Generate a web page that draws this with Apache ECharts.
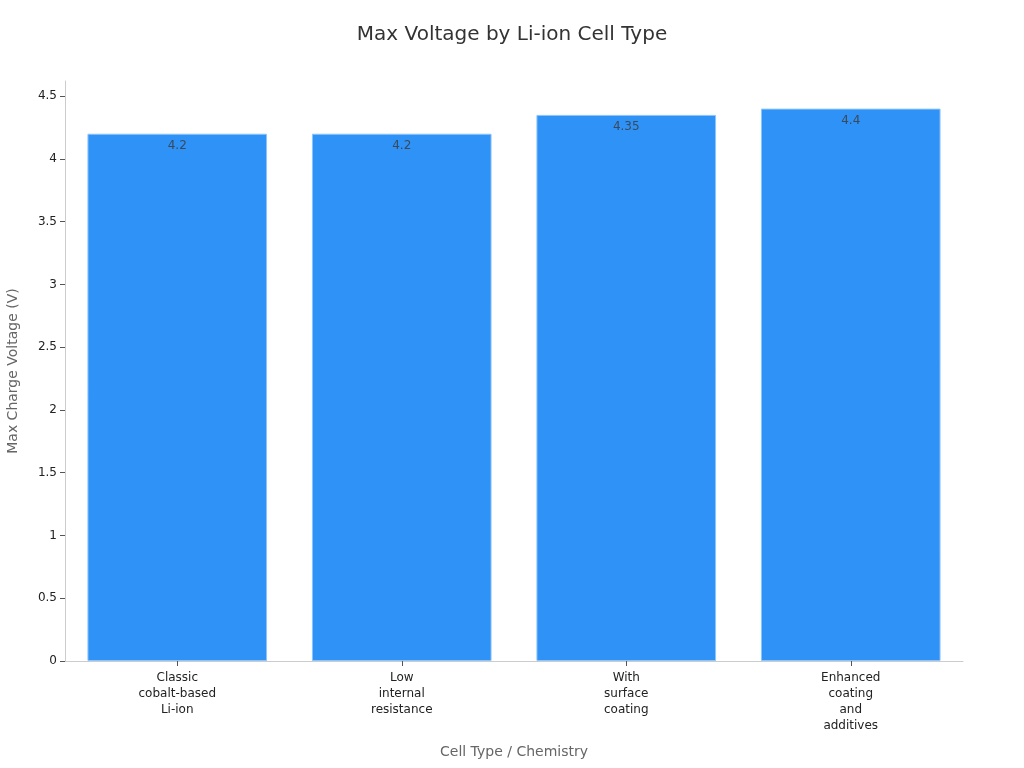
<!DOCTYPE html>
<html>
<head>
<meta charset="utf-8">
<script src="https://cdn.jsdelivr.net/npm/echarts@6/dist/echarts.min.js"></script>
<style>
  html, body { margin: 0; padding: 0; background: #fff; }
  #main { width: 1024px; height: 768px; }
</style>
</head>
<body>
<div id="main"></div>
<script>
const categories = [
    'Classic\ncobalt-based\nLi-ion',
    'Low\ninternal\nresistance',
    'With\nsurface\ncoating',
    'Enhanced\ncoating\nand\nadditives'
];
const maxVoltage = [4.2, 4.2, 4.35, 4.4];
const yTicks = [0, 0.5, 1, 1.5, 2, 2.5, 3, 3.5, 4, 4.5];

const chart = echarts.init(document.getElementById('main'));

const option = {
    backgroundColor: '#fff',
    textStyle: { fontFamily: 'DejaVu Sans' },
    title: {
        text: 'Max Voltage by Li-ion Cell Type',
        left: 'center',
        top: 20,
        textStyle: { fontSize: 20, fontWeight: 'normal', color: '#333' }
    },
    grid: { left: 65, right: 61, top: 81, bottom: 107, containLabel: false, outerBoundsMode: 'none' },
    xAxis: {
        type: 'category',
        data: categories,
        name: 'Cell Type / Chemistry',
        nameLocation: 'middle',
        nameGap: 84,
        nameTextStyle: { fontSize: 14, color: '#666' },
        axisLine: { lineStyle: { color: '#ccc' } },
        axisTick: { show: true, alignWithLabel: true, length: 5, lineStyle: { color: '#555' } },
        axisLabel: { fontSize: 12, color: '#222', lineHeight: 16, margin: 9, interval: 0 }
    },
    yAxis: {
        type: 'value',
        min: 0,
        max: 4.62,
        interval: 0.5,
        name: 'Max Charge Voltage (V)',
        nameLocation: 'middle',
        nameGap: 45,
        nameTextStyle: { fontSize: 14, color: '#666' },
        axisLine: { show: true, lineStyle: { color: '#ccc' } },
        axisTick: { show: true, length: 5, lineStyle: { color: '#555' }, customValues: yTicks },
        axisLabel: { fontSize: 12, color: '#222', margin: 8, customValues: yTicks },
        splitLine: { show: false }
    },
    series: [{
        type: 'bar',
        data: maxVoltage,
        barCategoryGap: '20%',
        itemStyle: { color: '#2f92f7', borderColor: '#8cc4fb', borderWidth: 1 },
        label: {
            show: true,
            position: 'insideTop',
            distance: 6,
            fontSize: 12,
            color: '#3a4a5a'
        }
    }]
};

chart.setOption(option);
</script>
</body>
</html>
